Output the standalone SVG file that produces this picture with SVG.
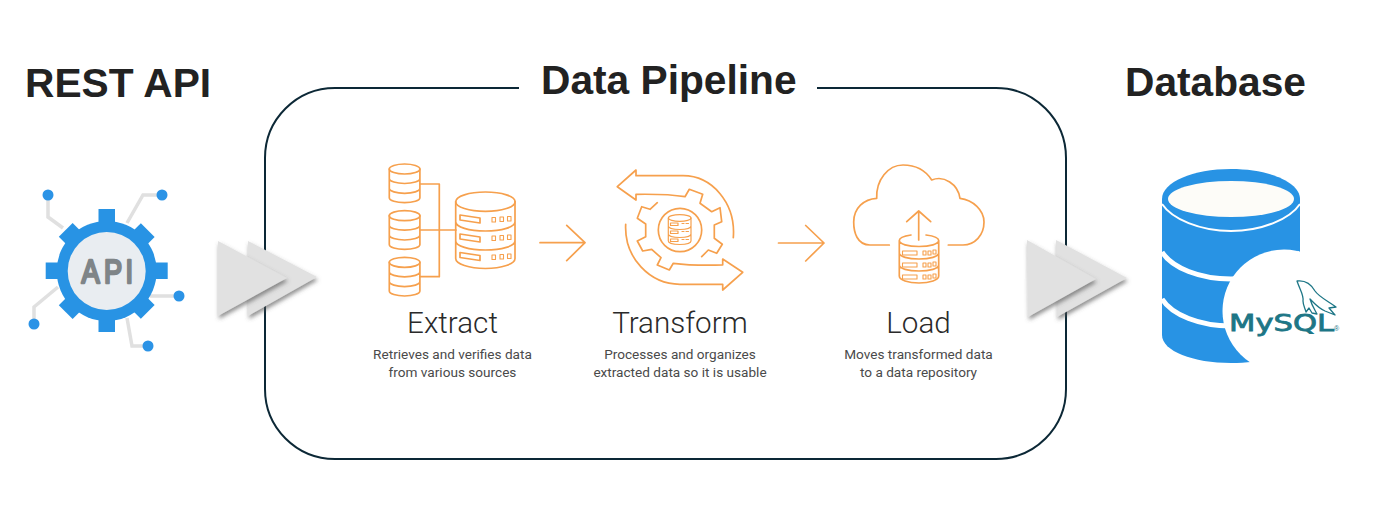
<svg xmlns="http://www.w3.org/2000/svg" xmlns:xlink="http://www.w3.org/1999/xlink" width="1389" height="517" viewBox="0 0 1389 517">
<style>
.title{font:bold 40.7px "Liberation Sans",Arial,sans-serif;fill:#222}
.step{font:300 29.6px Roboto,"Liberation Sans",sans-serif;fill:#2a2a2a;text-anchor:middle}
.desc{font:400 13.6px Roboto,"Liberation Sans",sans-serif;fill:#4a4a4a;text-anchor:middle}
.or{fill:none;stroke:#f6a04d;stroke-width:1.7;stroke-linejoin:round;stroke-linecap:round}
.ort{fill:none;stroke:#f6a04d;stroke-width:1.1}
.wire{fill:none;stroke:#e0e0e0;stroke-width:3.5}
.dot{fill:#2b93e6}
.blue{fill:#2893e4}
.tri{fill:#e1e1e1;filter:url(#sh)}
.teal{fill:none;stroke:#1d7686;stroke-width:1.3;stroke-linejoin:round}
</style>
<defs>
<filter id="sh" x="-20%" y="-20%" width="150%" height="150%"><feDropShadow dx="1" dy="3" stdDeviation="2" flood-color="#555" flood-opacity=".65"/></filter>
<g id="sdb" class="or">
<ellipse cx="15.3" cy="5" rx="15.3" ry="5"/>
<path d="M0 5V33.7C0 36.5 7 38.7 15.3 38.7S30.6 36.500 30.6 33.7V5M0 14.500C0 17.300 7 19.500 15.300 19.500S30.600 17.300 30.600 14.500M0 24.300C0 27.100 7 29.300 15.300 29.300S30.600 27.100 30.600 24.300"/>
</g>
</defs>
<rect width="1389" height="517" fill="#fff"/>

<g id="pipeline-frame">
<path d="M519 88H335A70 70 0 0 0 265 158V389A70 70 0 0 0 335 459H996A70 70 0 0 0 1066 389V158A70 70 0 0 0 996 88H817" fill="none" stroke="#0c2836" stroke-width="2"/>
</g>

<g id="titles">
<text class="title" x="25" y="97">REST API</text>
<text class="title" x="541" y="94">Data Pipeline</text>
<text class="title" x="1125" y="96">Database</text>
</g>

<g id="api">
<path class="wire" d="M48 195V217L63 228M162 195H143L127 223M179 296H150M34 324V307L58 287M148 346H132L127 318"/>
<circle class="dot" cx="48" cy="195" r="5.500"/><circle class="dot" cx="162" cy="195" r="5.500"/><circle class="dot" cx="179" cy="296" r="5.500"/><circle class="dot" cx="34" cy="324" r="5.500"/><circle class="dot" cx="148" cy="346" r="5.500"/>
<g class="blue">
<circle cx="106.700" cy="271" r="50"/>
<rect x="98.500" y="209" width="16.500" height="123"/>
<rect x="45.700" y="262.500" width="122" height="16.500"/>
<rect x="97" y="213" width="19.500" height="116" transform="rotate(45 106.700 271)"/>
<rect x="97" y="213" width="19.500" height="116" transform="rotate(-45 106.700 271)"/>
</g>
<circle cx="106.700" cy="271" r="39" fill="#e9edf1"/>
<text transform="scale(.8 1)" x="102 130 157" y="283.500" style="font:400 34px 'Liberation Sans',sans-serif;fill:#7f8588;stroke:#7f8588;stroke-width:2.600;stroke-linejoin:round">API</text>
</g>

<g id="extract">
<use xlink:href="#sdb" href="#sdb" x="389.300" y="164"/>
<use xlink:href="#sdb" href="#sdb" x="389.300" y="210.700"/>
<use xlink:href="#sdb" href="#sdb" x="389.300" y="257.300"/>
<path class="or" d="M420 184H439.300V276.700H420M420 230H456"/>
<g class="or">
<ellipse cx="485.400" cy="201.700" rx="29.700" ry="9.700"/>
<path d="M455.700 201.700V258.500C455.700 264 469 268.500 485.400 268.500S515 264 515 258.500V201.700M455.700 221.700C455.700 227 469 231 485.400 231S515 227 515 221.700M455.700 241C455.700 246 469 250 485.400 250S515 246 515 241"/>
<path d="M460 215L480 218V223L460 220ZM460 234L480 237V242L460 239ZM460 252.500L480 255.500V260.500L460 257.500Z"/>
<path class="ort" d="M492 217.500H495.500V222H492ZM500 217H503.500V221.500H500ZM507.500 216.500H511V221H507.500ZM492 236H495.500V240.500H492ZM500 235.500H503.500V240H500ZM507.500 235H511V239.500H507.500ZM492 255H495.500V259.500H492ZM500 254.500H503.500V259H500ZM507.500 254H511V258.500H507.500Z"/>
</g>
<text class="step" x="452.500" y="333">Extract</text>
<text class="desc" x="452.500" y="359">Retrieves and verifies data</text>
<text class="desc" x="452.500" y="377">from various sources</text>
</g>

<g id="transform">
<g class="or">
<path d="M733.300 237.700C736 203 712 175.700 683 175.700H636V170L617.300 186.700L636 200V194.300C655 194 672 194.500 685 196.700L689.300 189.300L702.700 194.300L700 203.300L711.700 211.700L720 207.700L721.700 221.700L714.300 225V238.300L722.300 244.300L716.700 253.300L708.300 250L701.700 256.700"/>
<path d="M657.300 202.700L650 209.300L641.700 206.700L637.300 218.300L645.700 224V236.700L637.300 241L642.700 251L651.700 249.300L661 257.700L657.300 265L669.300 270L673.300 263.300C690 265.500 705 265.500 722.700 265V259L742.700 272.300L722.700 290V284.300H680C650 284.300 624 258 625.700 224.300"/>
<circle cx="680" cy="230" r="21.700"/>
</g>
<g class="or" style="stroke-width:1.200">
<ellipse cx="679.700" cy="218" rx="11.300" ry="3.300"/>
<path d="M668.300 218V241C668.300 243 673 244.500 679.700 244.500S691 243 691 241V218M668.300 226C668.300 228 673 229.500 679.700 229.500S691 228 691 226M668.300 234C668.300 236 673 237.500 679.700 237.500S691 236 691 234"/>
<path d="M670.500 223H678V225.500H670.500ZM670.500 231H678V233.500H670.500ZM670.500 239H678V241.500H670.500ZM682 223.500H684M686 223.500H688.500M682 231.500H684M686 231.500H688.500M682 239.500H684M686 239.500H688.500"/>
</g>
<text class="step" x="680" y="333">Transform</text>
<text class="desc" x="680" y="359">Processes and organizes</text>
<text class="desc" x="680" y="377">extracted data so it is usable</text>
</g>

<g id="load">
<g class="or">
<path d="M889.300 245H870C857 245 853.700 232 853.700 222C853.700 208 864 199 876.700 198.300C876 180 888 165 903 165C916 165 926 171 931.700 180C944 175 958 184 960 198.300C973 200 984 210 984 222C984 235 975 245 963 245H948.300"/>
<path d="M918.700 240V211M906.700 221.700L918.700 211L930.700 221.700"/>
<path d="M911 235C904 236 899.300 238 899.300 240.500V276C899.300 280 908 283 919 283S938.700 280 938.700 276V240.500C938.700 238 934 236 926 235M899.300 240.500C899.300 244 908 246.500 919 246.500S938.700 244 938.700 240.500M899.300 253C899.300 256.500 908 259 919 259S938.700 256.500 938.700 253M899.300 265C899.300 268.500 908 271 919 271S938.700 268.500 938.700 265"/>
<path class="ort" d="M902.500 251H917V255H902.500ZM902.500 263H917V267H902.500ZM902.500 275H917V279H902.500ZM923 251H926V255H923ZM928 251H931V255H928ZM933 250H936V254H933ZM923 263H926V267H923ZM928 263H931V267H928ZM933 262H936V266H933ZM923 275H926V279H923ZM928 275H931V279H928ZM933 274H936V278H933Z"/>
</g>
<text class="step" x="918.500" y="333">Load</text>
<text class="desc" x="918.500" y="359">Moves transformed data</text>
<text class="desc" x="918.500" y="377">to a data repository</text>
</g>

<g id="connectors">
<path class="or" d="M540 242.700H585M566.700 225.300L585 242.700L566.700 260.700"/>
<path class="or" d="M778.500 243H824M805.700 225.500L824 243L805.700 261"/>
<path class="tri" d="M248 241L317 277L248 316Z"/>
<path class="tri" d="M218 241L287 278L218 316Z"/>
<path class="tri" d="M1056 240L1127 278L1057 317Z"/>
<path class="tri" d="M1027 240L1096 279L1028 317Z"/>
</g>

<g id="database">
<path class="blue" d="M1162 199C1162 182 1193 169 1231 169S1300 182 1300 199V335C1300 351 1269 363 1231 363S1162 351 1162 335Z"/>
<ellipse cx="1231" cy="199" rx="63" ry="18" fill="#fdfcf8"/>
<path d="M1162 204C1172 219 1200 231 1231 231S1290 219 1300 204" fill="none" stroke="#fff" stroke-width="2"/>
<path d="M1162 252C1172 268 1200 279 1231 279S1290 268 1300 252M1162 299C1172 315 1200 326 1231 326S1290 315 1300 299" fill="none" stroke="#fff" stroke-width="5"/>
<circle cx="1284" cy="311" r="61.500" fill="#fff"/>
<path class="teal" d="M1297 281C1305 280 1311 284 1315 291C1319 297 1328 301 1336 307L1329 308L1335 315L1325 311C1318 308 1314 303 1310 299C1312 306 1315 310 1317 314L1312 313L1309 308L1306 312C1305 308 1303 305 1303 301C1304 295 1300 290 1297 281Z"/>
<text x="1229" y="331" textLength="105" lengthAdjust="spacingAndGlyphs" style="font:400 23px 'DejaVu Sans',sans-serif;fill:#1d7686;stroke:#1d7686;stroke-width:.8">MySQL</text>
<text x="1334" y="331" style="font:7px 'Liberation Sans',sans-serif;fill:#1d7686">®</text>
</g>
</svg>
